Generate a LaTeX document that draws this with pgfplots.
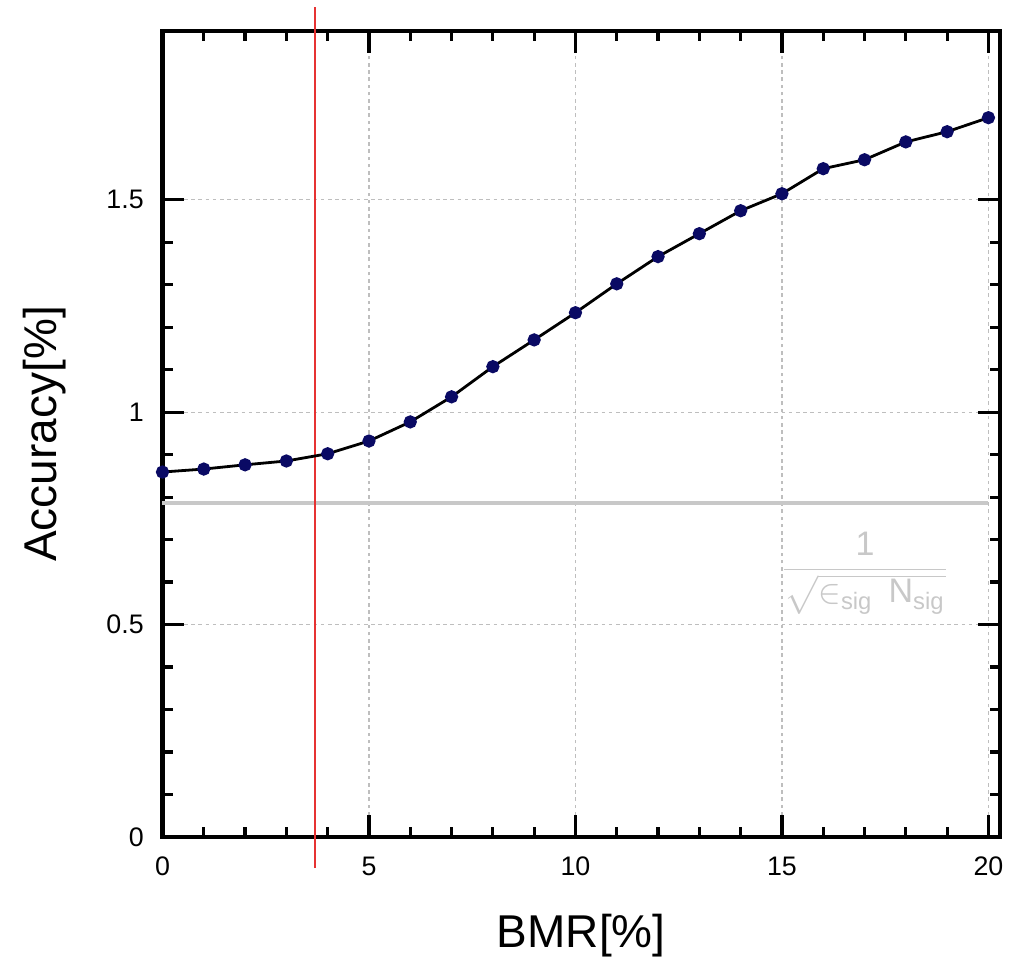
\documentclass[border=0pt]{standalone}
\usepackage{pgfplots}
\pgfplotsset{compat=1.18}
\usepackage{amsmath}
\usepackage{fontspec}
\setmainfont{Liberation Sans}
\definecolor{navymark}{RGB}{10,10,100}
\definecolor{lgray}{RGB}{200,200,200}
\definecolor{gridgray}{RGB}{190,190,190}
\definecolor{myred}{RGB}{230,50,50}
\begin{document}
\begin{tikzpicture}
\useasboundingbox (-40.625pt,-30pt) rectangle (214.375pt,209.25pt);
\begin{axis}[
  scale only axis,
  width=209.375pt, height=201.5pt,
  xmin=0, xmax=20.28, ymin=0, ymax=1.897,
  clip=false,
  axis line style={line width=1.2pt},
  xtick={0,5,10,15,20},
  ytick={0,0.5,1,1.5},
  yticklabels={0,0.5,1,1.5},
  minor x tick num=4,
  minor y tick num=4,
  tick align=inside,
  major tick length=5.5pt,
  minor tick length=2.6pt,
  every tick/.style={black, line width=0.8pt},
  xmajorgrids, ymajorgrids,
  major grid style={gridgray, dash pattern=on 0.9pt off 0.9pt, line width=0.3pt},
  /pgf/number format/assume math mode=true,
  tick label style={font=\fontsize{6.7}{8}\selectfont},
  xticklabel style={anchor=base, yshift=-9.5pt},
  yticklabel style={anchor=east, inner sep=0pt, xshift=-4.5pt},
  xlabel={BMR[\%]},
  ylabel={Accuracy[\%]},
  label style={font=\fontsize{11.5}{13}\selectfont},
  xlabel style={at={(axis description cs:0.5,-0.1365)}, anchor=base},
  ylabel style={at={(axis description cs:-0.141,0.5)}, anchor=center},
]
\addplot[lgray, line width=0.8pt] coordinates {(0,0.786) (20,0.786)};
\addplot[draw=myred, line width=0.45pt, no marks] coordinates {(3.70,-0.073) (3.70,1.954)};
\addplot[black, line width=0.7pt, mark=*, mark size=1.3pt,
  mark options={fill=navymark, draw=navymark}] coordinates {
(0,0.859) (1,0.866) (2,0.876) (3,0.885) (4,0.902) (5,0.932) (6,0.977)
(7,1.036) (8,1.107) (9,1.170) (10,1.234) (11,1.302) (12,1.366) (13,1.420)
(14,1.474) (15,1.514) (16,1.573) (17,1.594) (18,1.636) (19,1.660) (20,1.693)};
\node[text=lgray, font=\fontsize{8.5}{10}\selectfont, anchor=center] at (axis cs:17.01,0.621)
  {$\dfrac{\text{1}}{\sqrt{\in_{\text{sig}}\,\text{N}_{\text{sig}}}}$};
\end{axis}
\end{tikzpicture}
\end{document}
